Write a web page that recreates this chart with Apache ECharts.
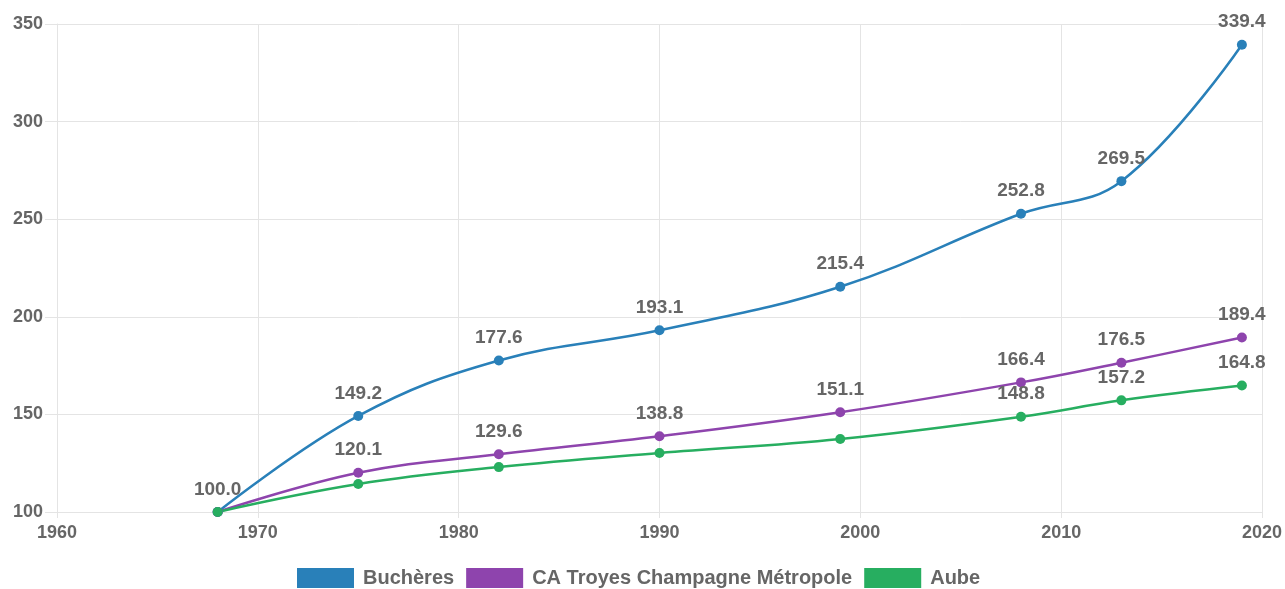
<!DOCTYPE html>
<html>
<head>
<meta charset="utf-8">
<script src="https://cdn.jsdelivr.net/npm/echarts@6/dist/echarts.min.js"></script>
<style>
  html, body { margin: 0; padding: 0; background: #fff; }
  #chart { width: 1285px; height: 589px; }
</style>
</head>
<body>
<div id="chart"></div>
<script>
const years = [1968, 1975, 1982, 1990, 1999, 2008, 2013, 2019]
const bucheres = [100.0, 149.2, 177.6, 193.1, 215.4, 252.8, 269.5, 339.4]
const troyes = [100.0, 120.1, 129.6, 138.8, 151.1, 166.4, 176.5, 189.4]
const aube = [100.0, 114.3, 123.0, 130.2, 137.4, 148.8, 157.2, 164.8]

// which points carry a value label
const showBucheres = [true, true, true, true, true, true, true, true]
const showTroyes = [false, true, true, true, true, true, true, true]
const showAube = [false, false, false, false, false, true, true, true]

const names = ['Buchères', 'CA Troyes Champagne Métropole', 'Aube']
const colors = ['#2980b9', '#8e44ad', '#27ae60']

const font = 'Arial, "Liberation Sans", sans-serif'
const grey = '#666'
const gridColor = '#e4e4e4'

function makeSeries(name, values, shows, color) {
  return {
    name,
    type: 'line',
    smooth: 0.4,
    symbol: 'circle',
    symbolSize: 10,
    lineStyle: { width: 2.5, color },
    itemStyle: { color },
    data: years.map((y, i) => ({
      value: [y, values[i]],
      label: { show: shows[i] },
    })),
    label: {
      position: 'top',
      distance: 8,
      formatter: (p) => p.value[1].toFixed(1),
      fontFamily: font,
      fontSize: 19,
      fontWeight: 'bold',
      color: grey,
    },
    emphasis: { disabled: true },
  }
}

const chart = echarts.init(document.getElementById('chart'), null, { renderer: 'canvas' })

chart.setOption({
  backgroundColor: '#ffffff',
  animation: false,
  color: colors,
  grid: { left: 57, right: 23, top: 24, bottom: 77, containLabel: false },
  legend: {
    top: 568,
    left: 297,
    padding: 0,
    itemWidth: 57,
    itemHeight: 20,
    itemGap: 12,
    icon: 'rect',
    textStyle: { fontFamily: font, fontSize: 20, fontWeight: 'bold', color: grey, padding: [0, 0, 0, 4] },
    data: names,
  },
  xAxis: {
    type: 'value',
    min: 1960,
    max: 2020,
    interval: 10,
    axisLine: { show: true, lineStyle: { color: gridColor } },
    axisTick: { show: true, length: 6, lineStyle: { color: gridColor } },
    splitLine: { show: true, lineStyle: { color: gridColor } },
    axisLabel: {
      margin: 12,
      fontFamily: font,
      fontSize: 18,
      fontWeight: 'bold',
      color: grey,
      formatter: (v) => String(v),
    },
  },
  yAxis: {
    type: 'value',
    min: 100,
    max: 350,
    interval: 50,
    axisLine: { show: true, lineStyle: { color: gridColor } },
    axisTick: { show: true, length: 12, lineStyle: { color: gridColor } },
    splitLine: { show: true, lineStyle: { color: gridColor } },
    axisLabel: {
      margin: 14,
      fontFamily: font,
      fontSize: 18,
      fontWeight: 'bold',
      color: grey,
    },
  },
  series: [
    makeSeries(names[0], bucheres, showBucheres, colors[0]),
    makeSeries(names[1], troyes, showTroyes, colors[1]),
    makeSeries(names[2], aube, showAube, colors[2]),
  ],
})
</script>
</body>
</html>
